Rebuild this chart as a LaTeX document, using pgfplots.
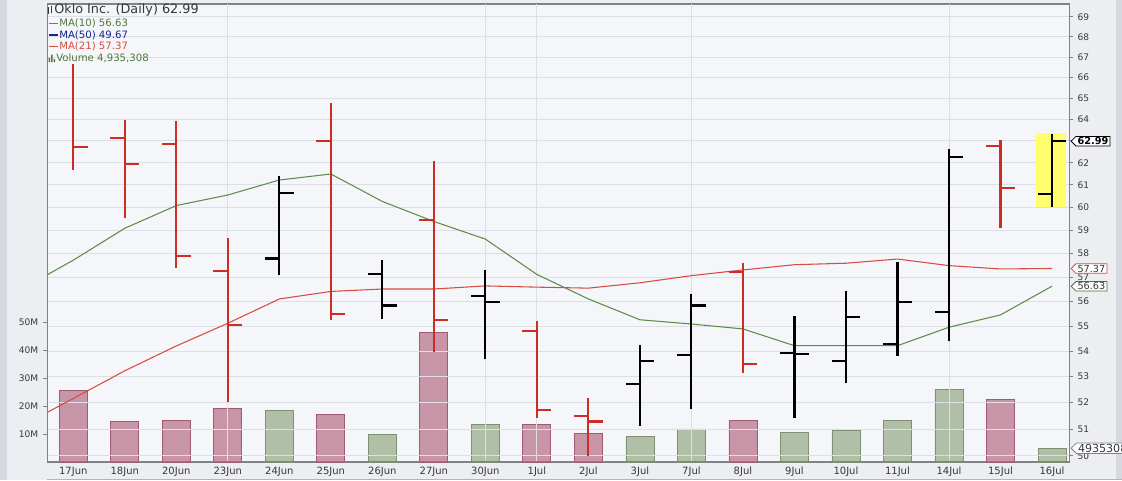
\documentclass[border=0pt]{standalone}
\usepackage{fontspec}
\setmainfont{DejaVu Sans}
\usepackage{pgfplots}
\pgfplotsset{compat=1.18}
\usetikzlibrary{shapes.symbols}

\definecolor{bgout}{RGB}{236,238,242}
\definecolor{stripc}{RGB}{214,217,224}
\definecolor{bgplot}{RGB}{245,246,250}
\definecolor{gridc}{RGB}{220,223,230}
\definecolor{framec}{RGB}{125,130,140}
\definecolor{labc}{RGB}{55,55,60}
\definecolor{downc}{RGB}{205,45,35}
\definecolor{maten}{RGB}{95,140,75}
\definecolor{matwo}{RGB}{215,75,65}
\definecolor{mafifty}{RGB}{25,35,140}
\definecolor{volred}{RGB}{181,109,133}
\definecolor{volredb}{RGB}{160,90,115}
\definecolor{volgrn}{RGB}{149,169,136}
\definecolor{volgrnb}{RGB}{125,145,112}
\definecolor{hilite}{RGB}{255,255,110}

% open tick to the left, close tick to the right
\pgfdeclareplotmark{otick}{\pgfpathmoveto{\pgfqpoint{-\pgfplotmarksize}{0pt}}\pgfpathlineto{\pgfqpoint{0pt}{0pt}}\pgfusepathqstroke}
\pgfdeclareplotmark{ctick}{\pgfpathmoveto{\pgfqpoint{0pt}{0pt}}\pgfpathlineto{\pgfqpoint{\pgfplotmarksize}{0pt}}\pgfusepathqstroke}

\pgfplotsset{
  chartframe/.style={
    at={(35.25pt,13.5pt)}, anchor=south west,
    scale only axis, width=766.5pt, height=343.5pt,
    xmin=-0.51, xmax=19.33,
    axis line style={framec, line width=0.7pt},
    tick style={framec, line width=0.6pt},
    tick align=outside, major tick length=3pt,
    tick label style={font=\fontsize{6.8}{7}\selectfont, text=labc},
  },
  hl/.style={line width=1.6pt, unbounded coords=jump, mark=none, line cap=rect},
  tk/.style={only marks, mark size=10pt, mark options={line width=1.6pt, line cap=rect}},
}

\begin{document}
\begin{tikzpicture}[x=0.75pt,y=0.75pt]
\fill[bgout] (0,0) rectangle (1122,480);
\fill[stripc] (0,0) rectangle (7,480);
\fill[stripc] (1116,0) rectangle (1122,480);

% volume panel (left scale, millions)
\begin{axis}[chartframe,
    ymin=0, ymax=163.6,
    axis background/.style={fill=bgplot},
    ytick={10,20,30,40,50},
    yticklabels={10M,20M,30M,40M,50M},
    ytick pos=left,
    xtick={0,...,19},
    xticklabels={17Jun,18Jun,20Jun,23Jun,24Jun,25Jun,26Jun,27Jun,30Jun,1Jul,2Jul,3Jul,7Jul,8Jul,9Jul,10Jul,11Jul,14Jul,15Jul,16Jul},
    xtick pos=bottom,
    x tick style={draw=none},
    x tick label style={font=\fontsize{7.5}{8}\selectfont, yshift=3pt},
]
\addplot[ybar, bar width=21pt, bar shift=0pt, fill=volred, fill opacity=0.7, draw=volredb, line width=0.6pt]
coordinates {
    (0,25.4) (1,14.5) (2,14.9) (3,19.2) (5,17.1)
    (7,46.4) (9,13.5) (10,10.3) (13,14.9) (18,22.4)
};
\addplot[ybar, bar width=21pt, bar shift=0pt, fill=volgrn, fill opacity=0.7, draw=volgrnb, line width=0.6pt]
coordinates {
    (4,18.3) (6,9.9) (8,13.5) (11,9.0) (12,11.8)
    (14,10.6) (15,11.3) (16,14.9) (17,26.0) (19,4.94)
};
\coordinate (cvol) at (axis cs:19.33,4.94);
\end{axis}

% price panel (right scale, log)
\begin{axis}[chartframe,
    ymode=log, ymin=49.78, ymax=69.66,
    ytick={50,51,52,53,54,55,56,57,58,59,60,61,62,63,64,65,66,67,68,69},
    yticklabels={50,51,52,53,54,55,56,57,58,59,60,61,62,,64,65,66,67,68,69},
    ytick pos=right,
    ymajorgrids,
    xtick={3,8,9,12,17},
    xticklabels={},
    x tick style={draw=none},
    xmajorgrids,
    grid style={gridc, line width=0.6pt},
]
\fill[hilite] (axis cs:18.69,60.02) rectangle (axis cs:19.28,63.37);

% MA(21)
\addplot[matwo, line width=0.8pt, mark=none] coordinates {
    (-1,51.11) (0,52.15) (1,53.22) (2,54.20) (3,55.11) (4,56.10) (5,56.41)
    (6,56.51) (7,56.51) (8,56.64) (9,56.59) (10,56.55) (11,56.77) (12,57.07)
    (13,57.31) (14,57.53) (15,57.59) (16,57.77) (17,57.49) (18,57.35) (19,57.37)
};
% MA(10)
\addplot[maten, line width=0.8pt, mark=none] coordinates {
    (-1,56.51) (0,57.72) (1,59.09) (2,60.08) (3,60.55) (4,61.22) (5,61.49)
    (6,60.26) (7,59.38) (8,58.62) (9,57.12) (10,56.10) (11,55.25) (12,55.08)
    (13,54.88) (14,54.21) (15,54.21) (16,54.21) (17,54.95) (18,55.45) (19,56.63)
};

% down days: low-high, open, close
\addplot[downc, hl] coordinates {
    (0,61.71) (0,66.61) (0,nan)
    (1,59.57) (1,63.90) (1,nan)
    (2,57.45) (2,63.86) (2,nan)
    (3,52.07) (3,58.63) (3,nan)
    (5,55.30) (5,64.72) (5,nan)
    (7,54.01) (7,62.02) (7,nan)
    (9,51.46) (9,55.16) (9,nan)
    (10,50.04) (10,52.13) (10,nan)
    (13,53.19) (13,57.55) (13,nan)
    (18,59.16) (18,63.00)
};
\addplot[downc, tk, mark=otick] coordinates {
    (1,63.13) (2,62.87) (3,57.28) (5,63.00) (7,59.44)
    (9,54.81) (10,51.49) (13,57.24) (18,62.77)
};
\addplot[downc, tk, mark=ctick] coordinates {
    (0,62.71) (1,61.95) (2,57.91) (3,55.04) (5,55.49)
    (7,55.24) (9,51.72) (10,51.28) (13,53.48) (18,60.88)
};

% up days
\addplot[black, hl] coordinates {
    (4,57.14) (4,61.37) (4,nan)
    (6,55.34) (6,57.69) (6,nan)
    (8,53.74) (8,57.27) (8,nan)
    (11,51.15) (11,54.21) (11,nan)
    (12,51.81) (12,56.27) (12,nan)
    (14,51.46) (14,55.36) (14,nan)
    (15,52.80) (15,56.37) (15,nan)
    (16,53.85) (16,57.60) (16,nan)
    (17,54.44) (17,62.58) (17,nan)
    (19,60.06) (19,63.28)
};
\addplot[black, tk, mark=otick] coordinates {
    (4,57.79) (6,57.14) (8,56.23) (11,52.70) (12,53.84)
    (14,53.91) (15,53.62) (16,54.27) (17,55.56) (19,60.60)
};
\addplot[black, tk, mark=ctick] coordinates {
    (4,60.63) (6,55.83) (8,55.97) (11,53.62) (12,55.83)
    (14,53.88) (15,55.36) (16,55.97) (17,62.28) (19,62.99)
};

\coordinate (clast) at (axis cs:19.33,62.99);
\coordinate (cma21) at (axis cs:19.33,57.37);
\coordinate (cma10) at (axis cs:19.33,56.63);
\end{axis}

% value flags on the right scale
\begin{scope}[every node/.style={signal, signal to=west, fill=white, line width=0.6pt,
    inner xsep=1.2pt, inner ysep=0.8pt, anchor=west, xshift=1.2pt,
    font=\fontsize{7.3}{8}\selectfont}]
\node[draw=black, font=\fontsize{7.3}{8}\selectfont\bfseries] at (clast) {62.99};
\node[draw=matwo, text=labc] at (cma21) {57.37};
\node[draw=maten!80!black, text=labc] at (cma10) {56.63};
\node[draw=framec, text=labc, font=\fontsize{8.3}{9}\selectfont] at (cvol) {4935308};
\end{scope}

% header and legend
\draw[framec!60] (47,1) -- (1122,1);
\begin{scope}[line width=0.6pt, labc]
\draw (48.5,466.5) -- (48.5,473) (47.5,468) -- (48.5,468);
\draw (51,467.5) -- (51,474.5) (51,471.5) -- (52.3,471.5);
\end{scope}
\node[anchor=west, inner sep=0, font=\fontsize{9.6}{10}\selectfont, text=labc] at (54,470) {Oklo Inc. (Daily) 62.99};
\draw[maten, line width=1.3pt] (49,456.5) -- (58,456.5);
\node[anchor=west, inner sep=0, font=\fontsize{7.6}{8}\selectfont, text=maten!85!black] at (59,456.5) {MA(10) 56.63};
\draw[mafifty, line width=1.3pt] (49,445) -- (58,445);
\node[anchor=west, inner sep=0, font=\fontsize{7.6}{8}\selectfont, text=mafifty] at (59,445) {MA(50) 49.67};
\draw[matwo, line width=1.3pt] (49,433.5) -- (58,433.5);
\node[anchor=west, inner sep=0, font=\fontsize{7.6}{8}\selectfont, text=matwo] at (59,433.5) {MA(21) 57.37};
\fill[maten!85!black] (48.5,418) rectangle (50,422.5) (51,418) rectangle (52.5,425.5) (53.5,418) rectangle (55,421);
\node[anchor=west, inner sep=0, font=\fontsize{7.6}{8}\selectfont, text=maten!85!black] at (56,422) {Volume 4,935,308};

\pgfresetboundingbox
\useasboundingbox (0,0) rectangle (1122,480);
\end{tikzpicture}
\end{document}
